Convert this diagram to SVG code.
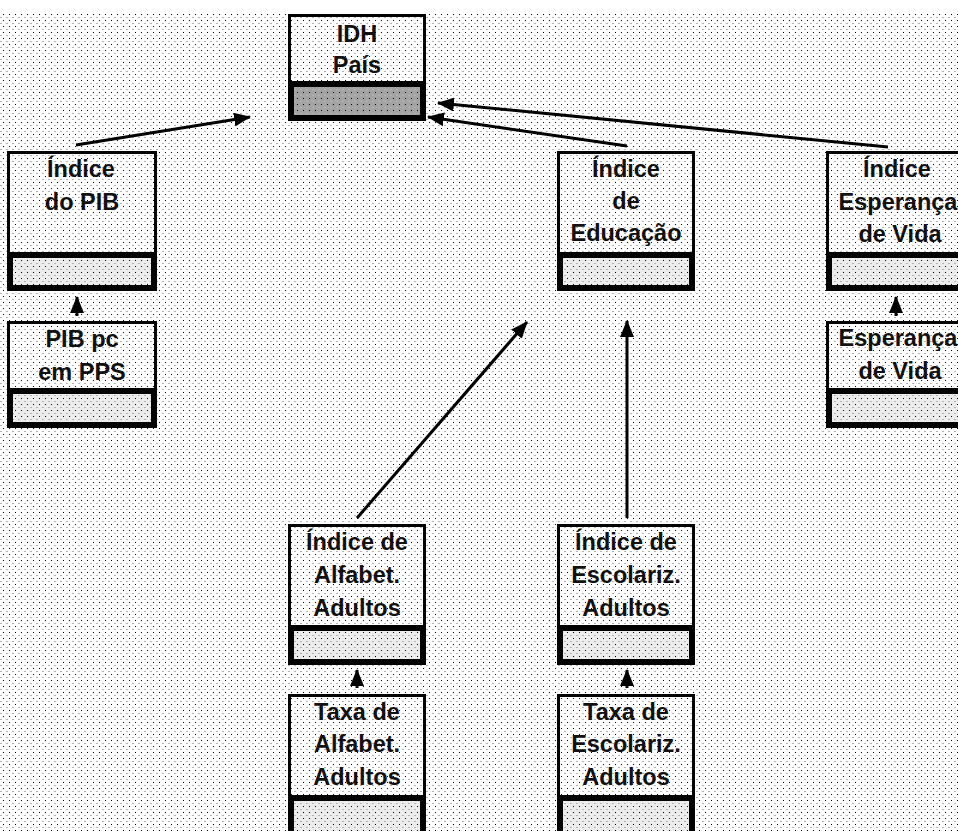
<svg xmlns="http://www.w3.org/2000/svg" width="958" height="831" viewBox="0 0 958 831">
  <defs>
    <!-- fine dither used on the page and inside the shaded bars -->
    <pattern id="dots" x="0" y="12" width="6" height="6" patternUnits="userSpaceOnUse">
      <rect x="3" y="2" width="1" height="1" fill="#000"/>
      <rect x="0" y="5" width="2" height="1" fill="#b4b4b4"/>
    </pattern>
    <marker id="head" markerUnits="userSpaceOnUse" markerWidth="18" markerHeight="14" refX="16" refY="7" orient="auto">
      <path d="M0,0 L17,7 L0,14 Z" fill="#000"/>
    </marker>
    <style>
      .lbl { font-family: "Liberation Sans", Arial, sans-serif; font-weight: bold; font-size: 23.5px; fill: #111; text-anchor: middle; }
      .top { fill: none; stroke: #000; stroke-width: 3; }
      .bar { fill: #ececec; stroke: #000; stroke-width: 6; }
      .bar-dark { fill: #a4a4a4; stroke: #000; stroke-width: 6; }
      .dither { fill: url(#dots); }
      .link { stroke: #000; stroke-width: 3; fill: none; marker-end: url(#head); }
    </style>
  </defs>

  <!-- page -->
  <rect x="0" y="0" width="958" height="831" fill="#fff"/>
  <rect x="0" y="12" width="958" height="819" class="dither"/>

  <!-- IDH País -->
  <g id="idh-pais">
    <rect class="top" x="289.5" y="15.5" width="135" height="67"/>
    <rect class="bar-dark" x="291" y="84" width="132" height="34"/>
    <rect class="dither" x="294" y="87" width="126" height="28"/>
    <text class="lbl" x="357" y="42">IDH</text>
    <text class="lbl" x="357" y="73">País</text>
  </g>

  <!-- Índice do PIB -->
  <g id="indice-pib">
    <rect class="top" x="8.5" y="152.5" width="147" height="101"/>
    <rect class="bar" x="10" y="255" width="144" height="33"/>
    <rect class="dither" x="13" y="258" width="138" height="27"/>
    <text class="lbl" x="81" y="177">Índice</text>
    <text class="lbl" x="82" y="210">do PIB</text>
  </g>

  <!-- Índice de Educação -->
  <g id="indice-educacao">
    <rect class="top" x="558.5" y="152.5" width="135" height="101"/>
    <rect class="bar" x="560" y="255" width="132" height="33"/>
    <rect class="dither" x="563" y="258" width="126" height="27"/>
    <text class="lbl" x="626" y="177">Índice</text>
    <text class="lbl" x="626" y="209">de</text>
    <text class="lbl" x="626" y="241">Educação</text>
  </g>

  <!-- Índice Esperança de Vida -->
  <g id="indice-esperanca">
    <rect class="top" x="827.5" y="152.5" width="137" height="101"/>
    <rect class="bar" x="829" y="255" width="134" height="33"/>
    <rect class="dither" x="832" y="258" width="128" height="27"/>
    <text class="lbl" x="897" y="177">Índice</text>
    <text class="lbl" x="898" y="210">Esperança</text>
    <text class="lbl" x="900" y="242">de Vida</text>
  </g>

  <!-- PIB pc em PPS -->
  <g id="pib-pc">
    <rect class="top" x="8.5" y="322.5" width="147" height="67"/>
    <rect class="bar" x="10" y="391" width="144" height="34"/>
    <rect class="dither" x="13" y="394" width="138" height="28"/>
    <text class="lbl" x="82" y="347">PIB pc</text>
    <text class="lbl" x="82" y="380">em PPS</text>
  </g>

  <!-- Esperança de Vida -->
  <g id="esperanca-vida">
    <rect class="top" x="827.5" y="322.5" width="137" height="67"/>
    <rect class="bar" x="829" y="391" width="134" height="34"/>
    <rect class="dither" x="832" y="394" width="128" height="28"/>
    <text class="lbl" x="898" y="346">Esperança</text>
    <text class="lbl" x="900" y="379">de Vida</text>
  </g>

  <!-- Índice de Alfabet. Adultos -->
  <g id="indice-alfabet">
    <rect class="top" x="289.5" y="525.5" width="135" height="101"/>
    <rect class="bar" x="291" y="628" width="132" height="34"/>
    <rect class="dither" x="294" y="631" width="126" height="28"/>
    <text class="lbl" x="357" y="550">Índice de</text>
    <text class="lbl" x="357" y="583">Alfabet.</text>
    <text class="lbl" x="357" y="616">Adultos</text>
  </g>

  <!-- Índice de Escolariz. Adultos -->
  <g id="indice-escolariz">
    <rect class="top" x="558.5" y="525.5" width="135" height="101"/>
    <rect class="bar" x="560" y="628" width="132" height="34"/>
    <rect class="dither" x="563" y="631" width="126" height="28"/>
    <text class="lbl" x="626" y="550">Índice de</text>
    <text class="lbl" x="626" y="583">Escolariz.</text>
    <text class="lbl" x="626" y="616">Adultos</text>
  </g>

  <!-- Taxa de Alfabet. Adultos -->
  <g id="taxa-alfabet">
    <rect class="top" x="289.5" y="695.5" width="135" height="101"/>
    <rect class="bar" x="291" y="798" width="132" height="40"/>
    <rect class="dither" x="294" y="801" width="126" height="34"/>
    <text class="lbl" x="357" y="720">Taxa de</text>
    <text class="lbl" x="357" y="752">Alfabet.</text>
    <text class="lbl" x="357" y="785">Adultos</text>
  </g>

  <!-- Taxa de Escolariz. Adultos -->
  <g id="taxa-escolariz">
    <rect class="top" x="558.5" y="695.5" width="135" height="101"/>
    <rect class="bar" x="560" y="798" width="132" height="40"/>
    <rect class="dither" x="563" y="801" width="126" height="34"/>
    <text class="lbl" x="626" y="720">Taxa de</text>
    <text class="lbl" x="626" y="752">Escolariz.</text>
    <text class="lbl" x="626" y="785">Adultos</text>
  </g>

  <!-- connectors -->
  <g id="connectors">
    <line class="link" x1="76" y1="145" x2="250" y2="117"/>
    <line class="link" x1="627" y1="146" x2="428" y2="117"/>
    <line class="link" x1="888" y1="147" x2="438" y2="103"/>
    <line class="link" x1="357" y1="518" x2="527" y2="322"/>
    <line class="link" x1="627" y1="518" x2="627" y2="321"/>
    <line class="link" x1="77" y1="316" x2="77" y2="297"/>
    <line class="link" x1="896" y1="316" x2="896" y2="297"/>
    <line class="link" x1="357" y1="688" x2="357" y2="670"/>
    <line class="link" x1="627" y1="688" x2="627" y2="670"/>
  </g>
</svg>
